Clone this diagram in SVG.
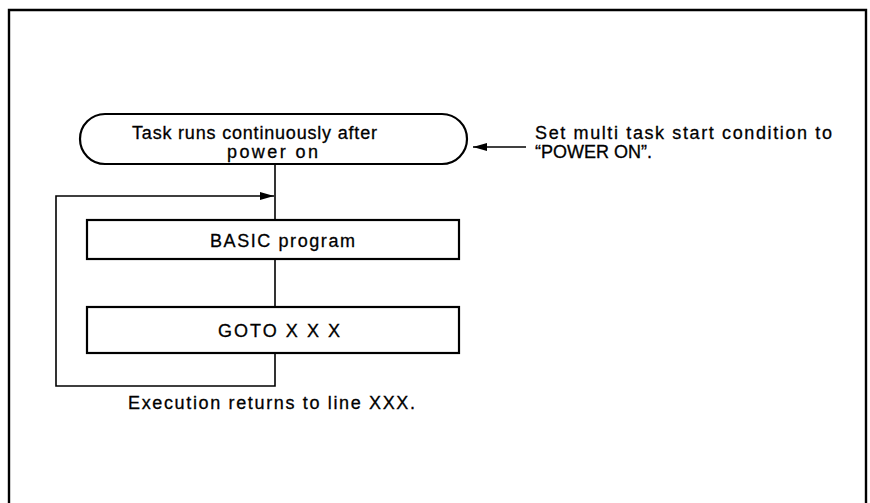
<svg xmlns="http://www.w3.org/2000/svg" width="870" height="503" viewBox="0 0 870 503">
<style>
  text { font-family: "Liberation Sans", Arial, sans-serif; font-size: 18px; fill: #000; stroke: #000; stroke-width: 0.3; }
  .box { fill: #fff; stroke: #000; stroke-width: 2.2; }
  .line { fill: none; stroke: #000; stroke-width: 1.6; }
</style>
<defs>
  <marker id="ah2" viewBox="0 0 14 8" refX="14" refY="4" markerWidth="14" markerHeight="8" markerUnits="userSpaceOnUse" orient="auto">
    <path d="M0,0 L14,4 L0,8 Z" fill="#000"/>
  </marker>
</defs>
<rect width="870" height="503" fill="#fff"/>
<path d="M9,515 L9,10 L866,10 L866,515" fill="none" stroke="#000" stroke-width="2.4"/>

<g id="connectors">
  <line class="line" x1="275" y1="164" x2="275" y2="220"/>
  <line class="line" x1="275" y1="259" x2="275" y2="307"/>
  <polyline class="line" points="275,353 275,386 56,386 56,196 274,196" marker-end="url(#ah2)"/>
  <line class="line" x1="526" y1="147" x2="473" y2="147" marker-end="url(#ah2)"/>
</g>

<g id="start">
  <rect class="box" x="80" y="114" width="387" height="50" rx="25" ry="25"/>
  <text x="132" y="139" textLength="245" lengthAdjust="spacing">Task runs continuously after</text>
  <text x="227" y="158" textLength="91" lengthAdjust="spacing">power on</text>
</g>

<g id="basic">
  <rect class="box" x="87" y="220" width="372" height="39"/>
  <text x="210" y="247" textLength="145" lengthAdjust="spacing">BASIC program</text>
</g>

<g id="goto">
  <rect class="box" x="87" y="307" width="372" height="46"/>
  <text x="218" y="337" textLength="122" lengthAdjust="spacing">GOTO X X X</text>
</g>

<g id="note-return">
  <text x="128" y="409" textLength="287" lengthAdjust="spacing">Execution returns to line XXX.</text>
</g>

<g id="note-start">
  <text x="535" y="139" textLength="297" lengthAdjust="spacing">Set multi task start condition to</text>
  <text x="535" y="158">“POWER ON”.</text>
</g>
</svg>
